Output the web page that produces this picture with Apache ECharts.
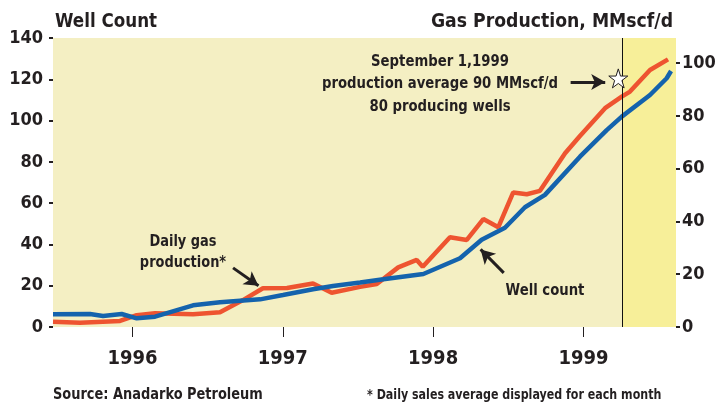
<!DOCTYPE html>
<html>
  <head>
    <meta charset="utf-8" />
    <title>Well Count / Gas Production</title>
    <script src="https://cdn.jsdelivr.net/npm/echarts@6/dist/echarts.min.js"></script>
    <style>
      html, body { margin: 0; padding: 0; background: #fff; }
    </style>
  </head>
  <body>
    <div id="main" style="width: 717px;height:403px;"></div>
    <script type="text/javascript">
      // data (x in decimal years)
      var wellX = [1995.471, 1995.717, 1995.804, 1995.928, 1996.028, 1996.150, 1996.403, 1996.582, 1996.849, 1997.001,
                   1997.201, 1997.334, 1997.514, 1997.669, 1997.935, 1998.179, 1998.323, 1998.478, 1998.611, 1998.744,
                   1998.977, 1999.155, 1999.255, 1999.443, 1999.554, 1999.583];
      var wellCount = [6.2, 6.3, 5.3, 6.3, 4.2, 5.0, 10.5, 12.0, 13.4, 15.5,
                       18.3, 19.9, 21.6, 23.1, 25.7, 33.3, 42.3, 48.1, 58.0, 64.0,
                       82.5, 95.4, 101.9, 112.4, 120.5, 124.0];

      var gasX = [1995.471, 1995.651, 1995.917, 1996.028, 1996.150, 1996.403, 1996.582, 1996.735, 1996.868, 1997.028,
                  1997.201, 1997.325, 1997.514, 1997.625, 1997.768, 1997.891, 1997.931, 1998.112, 1998.224, 1998.334,
                  1998.434, 1998.533, 1998.623, 1998.711, 1998.878, 1998.977, 1999.144, 1999.255, 1999.310, 1999.443,
                  1999.563];
      var gasRate = [2.0, 1.6, 2.3, 4.5, 5.2, 4.8, 5.6, 10.2, 14.7, 14.8,
                     16.5, 13.0, 15.2, 16.3, 22.6, 25.4, 22.8, 34.0, 33.0, 40.9,
                     37.8, 51.0, 50.3, 51.6, 65.8, 72.4, 82.9, 87.3, 89.2, 97.4,
                     101.4];

      var yearTicks = [1996, 1997, 1998, 1999];
      var gasTicks = [0, 20, 40, 60, 80, 100];
      var splitYear = 1999.257;   // vertical line / shaded part
      var starPoint = [1999.232, 94.2];

      var FONT = "'Liberation Sans Narrow', 'DejaVu Sans Condensed', 'Roboto', sans-serif";
      var INK = '#231f20';

      function zip(xs, ys) {
        return xs.map(function (x, i) { return [x, ys[i]]; });
      }

      // graphic text helper, sx squeezes the glyphs a bit
      function label(text, x, y, size, align, sx, extra) {
        var style = { text: text, font: 'bold ' + size + 'px ' + FONT, fill: INK, textAlign: align, textVerticalAlign: 'middle' };
        if (extra) for (var k in extra) style[k] = extra[k];
        return { type: 'text', x: x, y: y, scaleX: sx, z: 10, style: style };
      }

      var starPath = 'path://M50,2 L61,36 L97,36 L68,57 L79,92 L50,71 L21,92 L32,57 L3,36 L39,36 Z';

      var myChart = echarts.init(document.getElementById('main'));
      myChart.setOption({
        animation: false,
        grid: {
          left: 53, right: 41, top: 38, bottom: 76,
          outerBoundsMode: 'none',
          show: true, backgroundColor: '#f4efc3', borderWidth: 0
        },
        xAxis: {
          type: 'value',
          min: 1995.471,
          max: 1999.616,
          offset: 6,
          splitLine: { show: false },
          axisLine: { show: false },
          axisTick: { show: true, length: 10, customValues: yearTicks, lineStyle: { color: INK, width: 1 } },
          axisLabel: {
            customValues: yearTicks,
            formatter: function (v) { return String(v); },
            color: INK, fontFamily: FONT, fontWeight: 'bold', fontSize: 20, margin: 16
          }
        },
        yAxis: [
          {
            type: 'value', min: 0, max: 140, interval: 20, position: 'left',
            splitLine: { show: false },
            axisLine: { show: false },
            axisTick: { show: true, length: 4, lineStyle: { color: INK, width: 2 } },
            axisLabel: { color: INK, fontFamily: FONT, fontWeight: 'bold', fontSize: 18, margin: 10 }
          },
          {
            type: 'value', min: 0, max: 109.5, position: 'right',
            splitLine: { show: false },
            axisLine: { show: false },
            axisTick: { show: true, length: 4, customValues: gasTicks, lineStyle: { color: INK, width: 2 } },
            axisLabel: { customValues: gasTicks, color: INK, fontFamily: FONT, fontWeight: 'bold', fontSize: 18, margin: 6 }
          }
        ],
        series: [
          {
            name: 'Daily gas production',
            type: 'line',
            yAxisIndex: 1,
            data: zip(gasX, gasRate),
            symbol: 'none',
            z: 3,
            lineStyle: { color: '#ee5430', width: 4.5 },
            markArea: {
              silent: true,
              itemStyle: { color: '#f7ef99', opacity: 1 },
              data: [[{ xAxis: splitYear }, { xAxis: 1999.616 }]]
            },
            markPoint: {
              silent: true,
              symbol: starPath,
              symbolSize: 19,
              itemStyle: { color: '#ffffff', borderColor: INK, borderWidth: 1 },
              label: { show: false },
              data: [{ coord: starPoint }]
            },
            // annotation arrows (right-axis units)
            markLine: {
              silent: true,
              symbol: ['none', 'arrow'],
              symbolSize: [12, 14],
              label: { show: false },
              lineStyle: { color: INK, width: 3, type: 'solid' },
              data: [
                [{ coord: [1996.669, 22.4] }, { coord: [1996.838, 15.6] }],
                [{ coord: [1998.915, 92.8] }, { coord: [1999.145, 92.8] }],
                [{ coord: [1998.470, 20.5] }, { coord: [1998.316, 29.4] }]
              ]
            }
          },
          {
            name: 'Well count',
            type: 'line',
            yAxisIndex: 0,
            data: zip(wellX, wellCount),
            symbol: 'none',
            z: 4,
            lineStyle: { color: '#1463ad', width: 4.5 },
            markLine: {
              silent: true,
              symbol: 'none',
              label: { show: false },
              lineStyle: { color: '#111111', width: 1, type: 'solid' },
              data: [{ xAxis: splitYear }]
            }
          }
        ],
        graphic: [
          label('Well Count', 55, 22, 20, 'left', 0.93),
          label('Gas Production, MMscf/d', 673, 22, 20, 'right', 0.96),
          label('September 1,1999\nproduction average 90 MMscf/d\n80 producing wells', 440, 84, 16, 'center', 0.92, { lineHeight: 22.5 }),
          label('Daily gas\nproduction*', 183, 252.5, 16, 'center', 0.9, { lineHeight: 21 }),
          label('Well count', 545, 291, 16, 'center', 0.92),
          label('Source: Anadarko Petroleum', 53, 395, 16, 'left', 0.9),
          label('* Daily sales average displayed for each month', 367, 395, 14, 'left', 0.88)
        ]
      });
    </script>
  </body>
</html>
